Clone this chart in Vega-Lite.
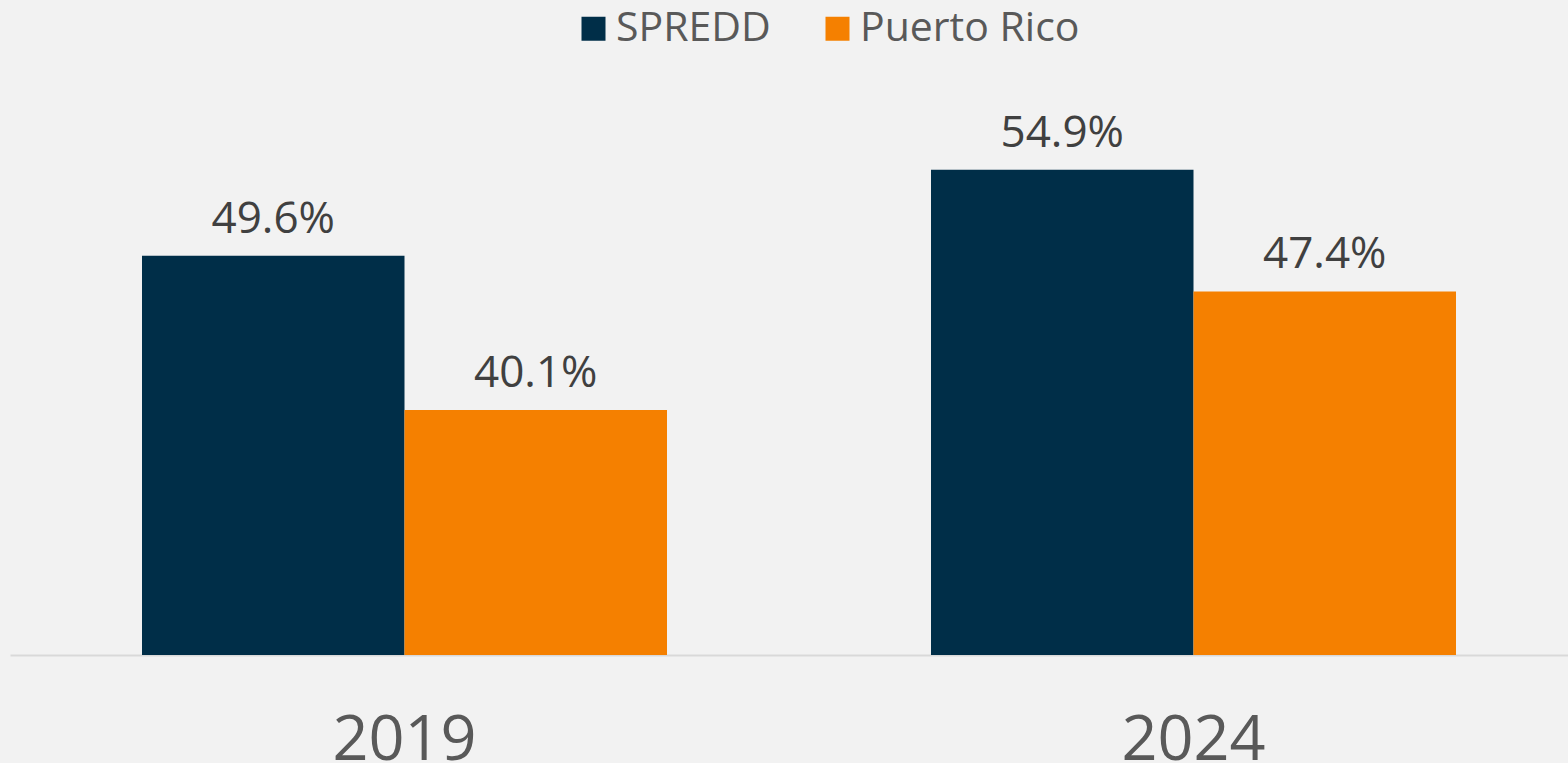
{
  "$schema": "https://vega.github.io/schema/vega-lite/v6.json",
  "autosize": "none",
  "padding": {"left": 10, "top": 87, "right": 0, "bottom": 108},
  "width": 1578,
  "height": 568,
  "background": "#f2f2f2",
  "config": {"view": {"stroke": null}, "font": "Open Sans"},
  "data": {"values": [
    {"year": "2019", "series": "SPREDD", "value": 0.496},
    {"year": "2019", "series": "Puerto Rico", "value": 0.401},
    {"year": "2024", "series": "SPREDD", "value": 0.549},
    {"year": "2024", "series": "Puerto Rico", "value": 0.474}
  ]},
  "encoding": {
    "x": {"field": "year", "type": "nominal",
      "scale": {"paddingInner": 0.3346, "paddingOuter": 0.1673},
      "axis": {"title": null, "ticks": false, "labelAngle": 0, "labelFontSize": 63, "labelColor": "#595959",
        "labelPadding": 104, "labelBaseline": "alphabetic", "domainColor": "#d9d9d9", "domainWidth": 2, "grid": false}},
    "xOffset": {"field": "series", "type": "nominal", "sort": ["SPREDD", "Puerto Rico"], "scale": {"paddingInner": 0, "paddingOuter": 0}},
    "y": {"field": "value", "type": "quantitative", "scale": {"domain": [0.25, 0.60], "nice": false, "zero": false}, "axis": null}
  },
  "layer": [
    {
      "mark": {"type": "bar", "clip": true},
      "encoding": {
        "color": {"field": "series", "type": "nominal", "sort": ["SPREDD", "Puerto Rico"],
          "scale": {"domain": ["SPREDD", "Puerto Rico"], "range": ["#002e48", "#f58000"]},
          "legend": {"title": null, "orient": "none", "direction": "horizontal", "legendX": 563, "legendY": -79,
            "symbolType": "square", "symbolSize": 576, "symbolStrokeWidth": 0, "symbolOpacity": 1,
            "labelFontSize": 41, "labelLimit": 400, "labelColor": "#595959", "labelOffset": 2, "columnPadding": 46}}
      }
    },
    {
      "mark": {"type": "text", "baseline": "alphabetic", "dy": -23, "fontSize": 44, "color": "#404040"},
      "encoding": {"text": {"field": "value", "type": "quantitative", "format": ".1%"}}
    }
  ]
}
